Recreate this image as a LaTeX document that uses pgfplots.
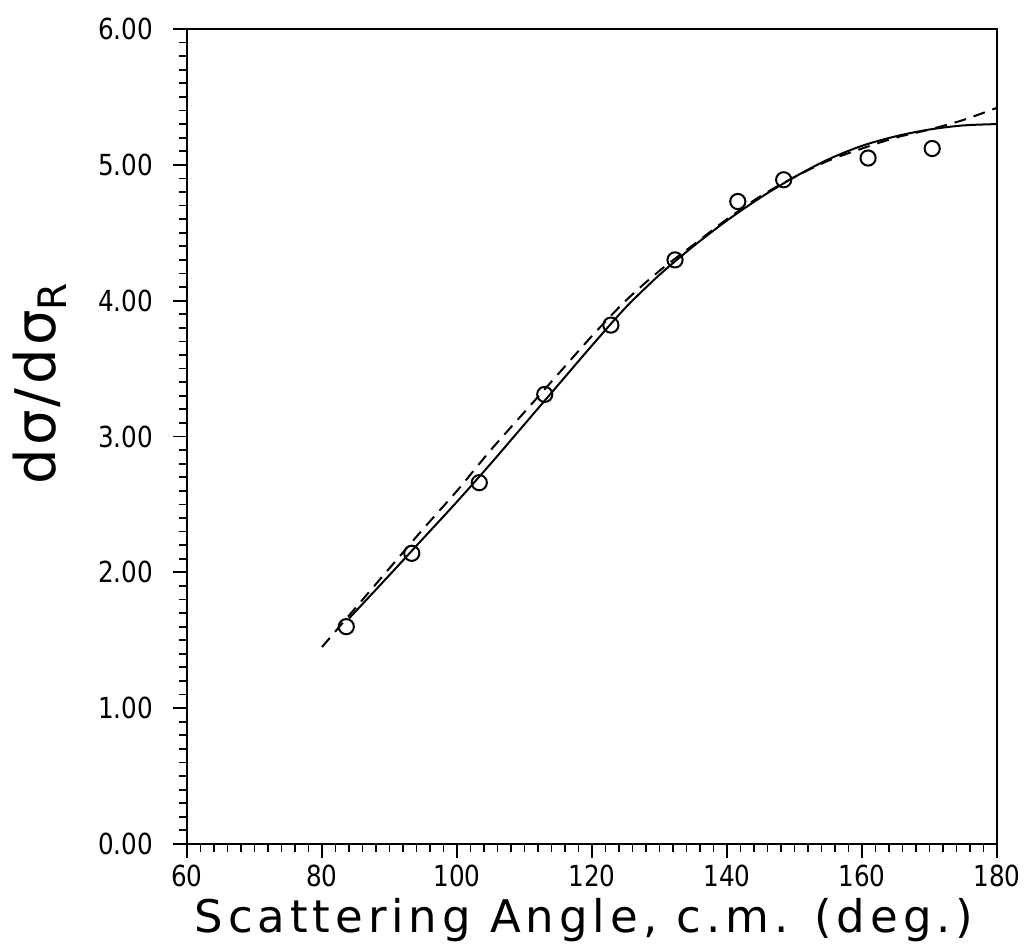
\documentclass[border=0pt]{standalone}
\usepackage{pgfplots}
\pgfplotsset{compat=1.18}
\usepackage{fontspec}
\setmainfont{DejaVu Sans}
\begin{document}
\begin{tikzpicture}
\begin{axis}[
  scale only axis,
  width=405pt, height=407.5pt,
  xmin=60, xmax=180, ymin=0, ymax=6,
  axis line style={line width=1pt},
  axis x line*=bottom, axis y line*=left,
  xtick={60,80,...,180}, ytick={0,1,...,6},
  minor x tick num=9, minor y tick num=9,
  tick align=outside,
  major tick length=7pt, minor tick length=4pt,
  tick style={black, line width=0.9pt},
  /pgf/number format/assume math mode=true,
  yticklabel style={/pgf/number format/.cd, fixed, fixed zerofill, precision=2, /tikz/.cd, font=\fontsize{14.5}{16}\selectfont\addfontfeature{FakeStretch=0.85}, xshift=-6.5pt},
  xticklabel style={font=\fontsize{14.5}{16}\selectfont\addfontfeature{FakeStretch=0.85}, yshift=0pt},
  xlabel={Scattering Angle, c.m. (deg.)},
  xlabel style={font=\fontsize{22.5}{26}\selectfont\addfontfeature{LetterSpace=11}, at={(axis description cs:0.49,-0.094)}, anchor=center},
  ylabel={dσ/dσ\textsubscript{R}},
  ylabel style={font=\fontsize{28}{30}\selectfont\addfontfeature{LetterSpace=6}, at={(axis description cs:-0.182,0.565)}, anchor=center},
  clip=false,
]
\draw[line width=1pt] (axis cs:60,6) -- (axis cs:180,6) -- (axis cs:180,0);
% solid curve
\addplot[black, line width=1pt, smooth, tension=0.5] coordinates {
(84,1.66) (90,1.98) (95,2.25) (100,2.52) (105,2.80) (110,3.09) (115,3.38)
(120,3.67) (125,3.95) (130,4.19) (135,4.40) (140,4.59) (145,4.76) (150,4.91)
(155,5.04) (160,5.14) (165,5.21) (170,5.26) (175,5.29) (180,5.30)};
% dashed curve
\addplot[black, line width=1pt, dash pattern=on 6pt off 4pt, smooth, tension=0.5] coordinates {
(80,1.45) (85,1.74) (90,2.03) (95,2.32) (100,2.60) (105,2.90) (110,3.18)
(115,3.46) (120,3.74) (125,4.00) (130,4.22) (135,4.41) (140,4.60) (145,4.77)
(150,4.91) (155,5.03) (160,5.12) (165,5.20) (170,5.26) (175,5.33) (180,5.42)};
% data
\addplot[black, only marks, mark=o, mark size=3.8pt, mark options={line width=1pt}] coordinates {
(83.6,1.60) (93.3,2.14) (103.3,2.66) (113.0,3.31) (122.8,3.82)
(132.3,4.30) (141.6,4.73) (148.4,4.89) (160.9,5.05) (170.4,5.12)};
\end{axis}
\pgfresetboundingbox
\path ([shift={(-93.5pt,-50pt)}]current axis.south west) rectangle ([shift={(16.5pt,14.5pt)}]current axis.north east);
\end{tikzpicture}
\end{document}
